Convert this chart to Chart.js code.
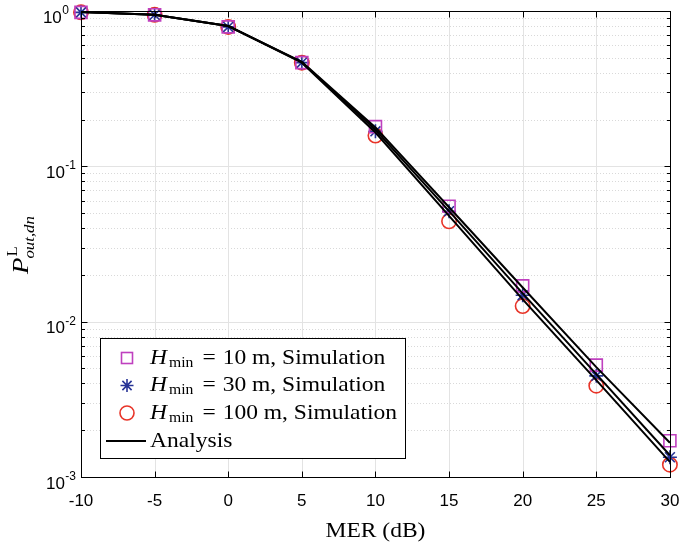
<!DOCTYPE html>
<html>
<head>
<meta charset="utf-8">
<script src="https://cdn.jsdelivr.net/npm/chart.js@4/dist/chart.umd.min.js"></script>
<style>
  html, body { margin: 0; padding: 0; background: #fff; }
  #wrap { width: 680px; height: 549px; }
</style>
</head>
<body>
<div id="wrap"><canvas id="grafico" width="680" height="549"></canvas></div>
<script>
// dados
const mer = [-10, -5, 0, 5, 10, 15, 20, 25, 30];
const sim10 = [0.98, 0.945, 0.79, 0.465, 0.180, 0.0553, 0.0170, 0.00525, 0.00171];
const sim30 = [0.98, 0.945, 0.79, 0.465, 0.168, 0.0514, 0.0148, 0.00448, 0.00134];
const sim100 = [0.98, 0.945, 0.79, 0.465, 0.158, 0.0443, 0.0126, 0.00387, 0.00120];
const ana10 = [0.985, 0.945, 0.80, 0.47, 0.178, 0.0545, 0.0166, 0.0051, 0.00166];
const ana30 = [0.985, 0.945, 0.80, 0.468, 0.172, 0.0515, 0.0152, 0.0046, 0.00138];
const ana100 = [0.985, 0.945, 0.80, 0.465, 0.165, 0.0480, 0.0139, 0.0042, 0.00125];
const xTicks = [-10, -5, 0, 5, 10, 15, 20, 25, 30];
const yExp = [0, -1, -2, -3];
const legendTxt = ['10 m, Simulation', '30 m, Simulation', '100 m, Simulation', 'Analysis'];

const roxo = 'rgb(191,64,191)';
const azul = 'rgb(40,52,150)';
const verm = 'rgb(232,52,40)';
const serif = '"Liberation Serif", "Times New Roman", serif';
const estica = 1.12; // largura do texto tipo LaTeX

function pts(ys) { return mer.map((x, i) => ({ x: x, y: ys[i] })); }

function linha(ys) {
  return { type: 'line', data: pts(ys), borderColor: '#000', borderWidth: 2, pointRadius: 0,
    fill: false, tension: 0, order: 0, clip: false };
}
function marca(ys, estilo, cor, r) {
  return { type: 'scatter', data: pts(ys), borderColor: cor, backgroundColor: 'rgba(0,0,0,0)',
    pointStyle: estilo, pointRadius: r, pointBorderWidth: 1.6, showLine: false, order: 1, clip: false };
}

// texto esticado na horizontal, devolve a largura
function texto(c, t, x, y, fonte) {
  c.save();
  c.font = fonte;
  c.translate(x, y);
  c.scale(estica, 1);
  c.fillText(t, 0, 0);
  const w = c.measureText(t).width * estica;
  c.restore();
  return w;
}

// grade, ticks, legenda, titulos
const desenho = {
  id: 'desenho',
  beforeDatasetsDraw(chart) {
    const c = chart.ctx, a = chart.chartArea, xs = chart.scales.x, ys = chart.scales.y;
    c.save();
    // menores
    c.strokeStyle = '#d9d9d9'; c.lineWidth = 1; c.setLineDash([1, 2]);
    for (let e = -3; e < 0; e++) {
      for (let k = 2; k <= 9; k++) {
        const y = Math.round(ys.getPixelForValue(k * Math.pow(10, e))) + 0.5;
        c.beginPath(); c.moveTo(a.left, y); c.lineTo(a.right, y); c.stroke();
      }
    }
    c.setLineDash([]);
    c.strokeStyle = '#e3e3e3';
    xTicks.forEach(v => {
      const x = Math.round(xs.getPixelForValue(v)) + 0.5;
      c.beginPath(); c.moveTo(x, a.top); c.lineTo(x, a.bottom); c.stroke();
    });
    yExp.forEach(e => {
      const y = Math.round(ys.getPixelForValue(Math.pow(10, e))) + 0.5;
      c.beginPath(); c.moveTo(a.left, y); c.lineTo(a.right, y); c.stroke();
    });
    c.restore();
  },
  afterDatasetsDraw(chart) {
    const c = chart.ctx, a = chart.chartArea, xs = chart.scales.x, ys = chart.scales.y;
    c.save();
    c.strokeStyle = '#000'; c.lineWidth = 1;
    const L = Math.round(a.left) + 0.5, R = Math.round(a.right) + 0.5;
    const T = Math.round(a.top) + 0.5, B = Math.round(a.bottom) + 0.5;
    c.strokeRect(L, T, R - L, B - T);
    c.beginPath();
    xTicks.forEach(v => {
      const x = Math.round(xs.getPixelForValue(v)) + 0.5;
      c.moveTo(x, B); c.lineTo(x, B - 6);
      c.moveTo(x, T); c.lineTo(x, T + 6);
    });
    for (let e = -3; e <= 0; e++) {
      const y = Math.round(ys.getPixelForValue(Math.pow(10, e))) + 0.5;
      c.moveTo(L, y); c.lineTo(L + 6, y);
      c.moveTo(R, y); c.lineTo(R - 6, y);
      if (e < 0) {
        for (let k = 2; k <= 9; k++) {
          const yy = Math.round(ys.getPixelForValue(k * Math.pow(10, e))) + 0.5;
          c.moveTo(L, yy); c.lineTo(L + 3.5, yy);
          c.moveTo(R, yy); c.lineTo(R - 3.5, yy);
        }
      }
    }
    c.stroke();

    // rotulos y com expoente
    c.fillStyle = '#000';
    yExp.forEach(e => {
      const y = ys.getPixelForValue(Math.pow(10, e));
      const sup = e === 0 ? '0' : '-' + (-e);
      c.font = '12px "Liberation Sans", Arial, sans-serif';
      const ws = c.measureText(sup).width;
      c.textAlign = 'left'; c.textBaseline = 'alphabetic';
      const xr = e === 0 ? 69 : 76;
      c.fillText(sup, xr - ws, y + 3);
      c.font = '17px "Liberation Sans", Arial, sans-serif';
      c.textAlign = 'right';
      c.fillText('10', xr - ws - 0.5, y + 11.5);
    });

    // legenda
    const bx = 100.5, by = 338.5, bw = 305, bh = 120;
    c.fillStyle = '#fff'; c.fillRect(bx, by, bw, bh);
    c.strokeStyle = '#000'; c.lineWidth = 1; c.strokeRect(bx, by, bw, bh);
    const linhas = [358, 385.5, 413, 441];
    const mx = 127;
    c.save();
    c.strokeStyle = roxo; c.lineWidth = 1.6;
    c.strokeRect(mx - 5.5, linhas[0] - 5.5, 11, 11);
    c.strokeStyle = azul; c.beginPath();
    const s = 6.5;
    c.moveTo(mx - s, linhas[1]); c.lineTo(mx + s, linhas[1]);
    c.moveTo(mx, linhas[1] - s); c.lineTo(mx, linhas[1] + s);
    const d = s * 0.707;
    c.moveTo(mx - d, linhas[1] - d); c.lineTo(mx + d, linhas[1] + d);
    c.moveTo(mx - d, linhas[1] + d); c.lineTo(mx + d, linhas[1] - d);
    c.stroke();
    c.strokeStyle = verm; c.beginPath(); c.arc(mx, linhas[2], 7, 0, Math.PI * 2); c.stroke();
    c.strokeStyle = '#000'; c.lineWidth = 2; c.beginPath();
    c.moveTo(106, linhas[3]); c.lineTo(146, linhas[3]); c.stroke();
    c.restore();
    // textos
    c.fillStyle = '#000'; c.textAlign = 'left'; c.textBaseline = 'alphabetic';
    for (let i = 0; i < 4; i++) {
      const yb = linhas[i] + 5.5;
      let x = 150;
      if (i < 3) {
        x += texto(c, 'H', x, yb, 'italic 21px ' + serif) + 2;
        x += texto(c, 'min', x, yb + 3, '14px ' + serif) + 9;
        x += texto(c, '=', x, yb, '21px ' + serif) + 7;
      }
      texto(c, legendTxt[i], x, yb, '21px ' + serif);
    }

    // titulo x
    c.font = '21px ' + serif;
    const wx = c.measureText('MER (dB)').width * estica;
    texto(c, 'MER (dB)', (a.left + a.right) / 2 - wx / 2, 537, '21px ' + serif);

    // titulo y
    c.save();
    c.translate(28, 274);
    c.rotate(-Math.PI / 2);
    c.textAlign = 'left';
    const wp = texto(c, 'P', 0, 0, 'italic 24px ' + serif);
    texto(c, 'L', wp + 1, -11, '15px ' + serif);
    texto(c, 'out,dn', wp - 1, 6, 'italic 15px ' + serif);
    c.restore();

    c.restore();
  }
};

let graf = new Chart(document.getElementById('grafico'), {
  type: 'scatter',
  data: {
    datasets: [
      linha(ana10), linha(ana30), linha(ana100),
      marca(sim10, 'rect', roxo, 8.5),
      marca(sim30, 'star', azul, 7),
      marca(sim100, 'circle', verm, 7.2)
    ]
  },
  options: {
    responsive: false,
    animation: false,
    devicePixelRatio: 1,
    layout: { padding: { left: 0, right: 7, top: 11, bottom: 0 } },
    plugins: { legend: { display: false }, tooltip: { enabled: false } },
    scales: {
      x: {
        type: 'linear', min: -10, max: 30,
        grid: { display: false, drawTicks: false },
        border: { display: false },
        afterBuildTicks: s => { s.ticks = xTicks.map(v => ({ value: v })); },
        afterFit: s => { s.height = 72; s.paddingLeft = 0; s.paddingRight = 0; },
        ticks: { color: '#000', padding: 14, maxRotation: 0, autoSkip: false,
          font: { family: '"Liberation Sans", Arial, sans-serif', size: 17 } }
      },
      y: {
        type: 'logarithmic', min: 0.001, max: 1,
        grid: { display: false, drawTicks: false },
        border: { display: false },
        ticks: { display: false },
        afterFit: s => { s.width = 81; s.paddingTop = 0; s.paddingBottom = 0; }
      }
    }
  },
  plugins: [desenho]
});
</script>
</body>
</html>
